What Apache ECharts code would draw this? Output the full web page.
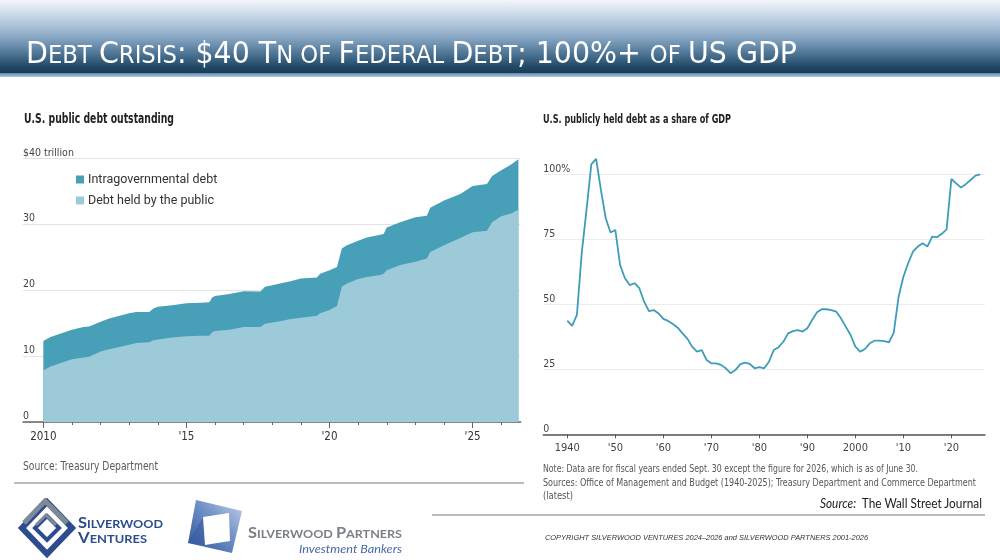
<!DOCTYPE html>
<html><head><meta charset="utf-8">
<script src="https://cdn.jsdelivr.net/npm/echarts@6/dist/echarts.min.js"></script>
<style>
html,body{margin:0;padding:0;width:1000px;height:560px;overflow:hidden;background:#fff;}
body{font-family:'Liberation Sans Narrow','DejaVu Sans Condensed','Liberation Sans',sans-serif;}
#hdr{position:absolute;left:0;top:0;width:1000px;height:73px;
 background:linear-gradient(to bottom,#f3f6fa 0%,#d3e0ec 16%,#a9c1d8 36%,#7e9fbd 55%,#4a7191 75%,#1f4864 92%,#173c57 100%);}
#hdrline{position:absolute;left:0;top:73px;width:1000px;height:4px;background:linear-gradient(#5f87ad,#b3c9de);}
#chart{position:absolute;left:0;top:0;width:1000px;height:560px;z-index:1;}
.t{position:absolute;white-space:nowrap;transform-origin:left center;z-index:2;line-height:1.2;}
#title{color:#fff;font-family:'Liberation Sans Narrow','DejaVu Sans Condensed',sans-serif;line-height:34px;}
#title .b{font-size:30px;}
#title .s{font-size:24px;}
svg{position:absolute;left:0;top:0;z-index:0;}
</style></head>
<body>
<div id="hdr"></div><div id="hdrline"></div>
<svg width="1000" height="560" viewBox="0 0 1000 560">
 <defs>
  <linearGradient id="pg" x1="0" y1="1" x2="1" y2="0">
   <stop offset="0" stop-color="#2a5398"/><stop offset="0.55" stop-color="#6f8fc6"/><stop offset="1" stop-color="#c3d1ea"/>
  </linearGradient>
 </defs>
 <line x1="14" y1="483" x2="524" y2="483" stroke="#7a7a7a" stroke-width="1"/>
 <line x1="432" y1="515" x2="985" y2="515" stroke="#7a7a7a" stroke-width="1"/>
 <!-- Silverwood Ventures mark -->
 <polygon points="47,502 72,528 47,554 22,528" fill="none" stroke="#2d4c8e" stroke-width="6"/>
 <polyline points="24,523 45,501 67,523" fill="none" stroke="#7e8a95" stroke-width="5"/>
 <polygon points="47,516 59,528 47,540 35,528" fill="none" stroke="#2d4c8e" stroke-width="4"/>
 <polyline points="36,525 46,515 56,525" fill="none" stroke="#7e8a95" stroke-width="3"/>
 <!-- Silverwood Partners mark -->
 <polygon points="196,500 242,511 232,553 188,543" fill="url(#pg)"/>
 <polygon points="188,543 203,517 205,545" fill="#3a5ea0" opacity="0.6"/>
 <polygon points="203,517 229,513 230,541 205,545" fill="#fff"/>
</svg>
<div id="chart"></div>

<div class="t" id="title" data-w="771" data-x="26" data-cy="55"><span class="b">D</span><span class="s">EBT </span><span class="b">C</span><span class="s">RISIS</span><span class="b">: $40 T</span><span class="s">N OF </span><span class="b">F</span><span class="s">EDERAL </span><span class="b">D</span><span class="s">EBT</span><span class="b">; 100%+ </span><span class="s">OF </span><span class="b">US GDP</span></div>

<div class="t" data-w="150" data-x="24" data-cy="118.5" style="font-size:14px;font-weight:bold;color:#222;">U.S. public debt outstanding</div>
<div class="t" data-w="188" data-x="543" data-cy="118.5" style="font-size:13px;font-weight:bold;color:#222;">U.S. publicly held debt as a share of GDP</div>
<div class="t" data-w="135" data-x="23" data-cy="466" style="font-size:12px;color:#5a5a5a;">Source: Treasury Department</div>
<div class="t" data-w="375" data-x="543" data-cy="468" style="font-size:11px;color:#555;">Note: Data are for fiscal years ended Sept. 30 except the figure for 2026, which is as of June 30.</div>
<div class="t" data-w="433" data-x="543" data-cy="482" style="font-size:11px;color:#555;">Sources: Office of Management and Budget (1940-2025); Treasury Department and Commerce Department</div>
<div class="t" data-w="30" data-x="543" data-cy="495" style="font-size:11px;color:#555;">(latest)</div>
<div class="t" data-w="162" data-x="820" data-cy="504" style="font-size:13px;color:#222;font-family:Lato,'Open Sans',sans-serif;"><i>Source:</i>&nbsp; The Wall Street Journal</div>
<div class="t" data-w="323" data-x="545" data-cy="538" style="font-size:8px;color:#333;font-style:italic;font-family:'Liberation Sans',Arial,sans-serif;">COPYRIGHT SILVERWOOD VENTURES 2024–2026 and SILVERWOOD PARTNERS 2001-2026</div>

<div class="t" data-w="85" data-x="78" data-cy="521" style="color:#2d4c8e;font-weight:bold;font-family:Lato,'Open Sans',sans-serif;"><span style="font-size:15px">S</span><span style="font-size:11.5px">ILVERWOOD</span></div>
<div class="t" data-w="69" data-x="78" data-cy="536" style="color:#2d4c8e;font-weight:bold;font-family:Lato,'Open Sans',sans-serif;"><span style="font-size:15px">V</span><span style="font-size:11.5px">ENTURES</span></div>
<div class="t" data-w="154" data-x="248" data-cy="531" style="color:#7b8087;font-weight:bold;font-family:Lato,'Open Sans',sans-serif;"><span style="font-size:15px">S</span><span style="font-size:11.5px">ILVERWOOD </span><span style="font-size:15px">P</span><span style="font-size:11.5px">ARTNERS</span></div>
<div class="t" data-w="103" data-x="299" data-cy="548" style="color:#4569a8;font-style:italic;font-size:11px;font-family:Lato,'Open Sans',sans-serif;">Investment Bankers</div>

<script>
// ---- Left chart: U.S. public debt outstanding ($ trillion) ----
const debtDates = [2010.0, 2010.25, 2011.0, 2011.4, 2011.6, 2012.0, 2012.3, 2013.0, 2013.25, 2013.7, 2013.85, 2014.0, 2014.5, 2015.0, 2015.5, 2015.8, 2015.9, 2016.0, 2016.5, 2017.0, 2017.58, 2017.75, 2018.0, 2018.27, 2018.6, 2019.0, 2019.56, 2019.67, 2020.0, 2020.26, 2020.43, 2020.61, 2021.0, 2021.3, 2021.77, 2021.89, 2022.0, 2022.47, 2023.0, 2023.4, 2023.52, 2024.0, 2024.57, 2025.0, 2025.5, 2025.68, 2026.0, 2026.32, 2026.6];
const totalDebt = [12.3, 12.9, 14.0, 14.4, 14.5, 15.2, 15.7, 16.5, 16.7, 16.7, 17.2, 17.5, 17.7, 18.0, 18.1, 18.15, 18.9, 19.1, 19.4, 19.85, 19.8, 20.5, 20.75, 21.0, 21.3, 21.75, 21.9, 22.5, 23.0, 23.5, 26.3, 26.8, 27.5, 28.0, 28.4, 28.5, 29.5, 30.3, 31.05, 31.3, 32.5, 33.6, 34.6, 35.8, 36.1, 37.3, 38.2, 39.0, 39.85];
const publicDebt = [7.8, 8.4, 9.5, 9.8, 9.9, 10.7, 11.05, 11.7, 12.0, 12.1, 12.4, 12.5, 12.8, 13.0, 13.1, 13.1, 13.6, 13.8, 14.0, 14.4, 14.4, 14.9, 15.1, 15.3, 15.6, 15.8, 16.1, 16.5, 17.0, 17.6, 20.5, 21.0, 21.7, 22.0, 22.3, 22.5, 23.0, 23.8, 24.3, 24.8, 25.8, 26.8, 27.9, 28.8, 29.0, 30.3, 31.2, 31.6, 32.2];
const debtTickYears = [2010, 2011, 2012, 2013, 2014, 2015, 2016, 2017, 2018, 2019, 2020, 2021, 2022, 2023, 2024, 2025, 2026];
const debtLabelYears = [2010, 2015, 2020, 2025];

// ---- Right chart: publicly held debt as a share of GDP (%) ----
const gdpYears = [1940,1941,1942,1943,1944,1945,1946,1947,1948,1949,1950,1951,1952,1953,1954,1955,1956,1957,1958,1959,1960,1961,1962,1963,1964,1965,1966,1967,1968,1969,1970,1971,1972,1973,1974,1975,1976,1977,1978,1979,1980,1981,1982,1983,1984,1985,1986,1987,1988,1989,1990,1991,1992,1993,1994,1995,1996,1997,1998,1999,2000,2001,2002,2003,2004,2005,2006,2007,2008,2009,2010,2011,2012,2013,2014,2015,2016,2017,2018,2019,2020,2021,2022,2023,2024,2025,2026];
const debtShareGDP = [43.7,41.7,45.9,69.6,86.3,103.8,105.9,94.0,83.1,77.6,78.6,65.1,60.0,57.4,58.1,56.2,51.0,47.4,47.8,46.5,44.4,43.6,42.4,41.0,38.8,36.8,33.7,31.8,32.4,28.6,27.3,27.3,26.7,25.4,23.5,24.7,26.9,27.6,27.1,25.4,25.8,25.4,27.9,32.4,33.5,35.6,38.8,39.7,40.1,39.5,40.8,44.0,46.9,48.1,48.1,47.8,47.2,44.6,41.4,38.2,33.7,31.8,32.8,35.0,36.0,36.0,35.8,35.4,39.1,52.9,60.6,65.8,70.3,72.2,73.5,72.2,76.0,75.8,77.1,78.8,98.2,96.5,94.9,96.2,97.8,99.5,100.0];
const gdpLabelYears = [1940, 1950, 1960, 1970, 1980, 1990, 2000, 2010, 2020];

const F = "'Liberation Sans Narrow','DejaVu Sans Condensed',sans-serif";
const fmtDebtYear = v => v === 2010 ? '2010' : "'" + String(v).slice(2);
const fmtGdpYear = v => (v === 1940 || v === 2000) ? String(v) : "'" + String(v).slice(2);

const chart = echarts.init(document.getElementById('chart'), null, {renderer: 'canvas'});
chart.setOption({
  animation: false,
  backgroundColor: 'transparent',
  legend: {
    data: ['Intragovernmental debt', 'Debt held by the public'],
    orient: 'vertical', left: 76, top: 173, padding: 0, itemWidth: 8, itemHeight: 8, itemGap: 8,
    icon: 'rect', selectedMode: false,
    textStyle: {fontSize: 12.5, color: '#333', fontFamily: 'Roboto, sans-serif', padding: [0, 0, 0, -1]}
  },
  grid: [
    {left: 23, right: 479.3, top: 158.3, bottom: 138, containLabel: false},
    {left: 543.3, right: 15, top: 109.3, bottom: 125.7, containLabel: false}
  ],
  xAxis: [
    {gridIndex: 0, type: 'value', position: 'bottom', min: 2009.29, max: 2026.68,
     axisLine: {show: true, lineStyle: {color: '#666', width: 1.5}},
     axisTick: {show: true, customValues: debtTickYears, length: 3, lineStyle: {color: '#666'}},
     axisLabel: {show: true, customValues: debtLabelYears, formatter: fmtDebtYear, margin: 9, color: '#333', fontSize: 11.5, fontFamily: F},
     splitLine: {show: false}},
    {gridIndex: 0, type: 'value', position: 'bottom', min: 2009.29, max: 2026.68,
     axisLine: {show: false},
     axisTick: {show: true, customValues: debtLabelYears, length: 6, lineStyle: {color: '#666'}},
     axisLabel: {show: false}, splitLine: {show: false}},
    {gridIndex: 1, type: 'value', position: 'bottom', min: 1935, max: 2027,
     axisLine: {show: true, lineStyle: {color: '#555', width: 1.5}},
     axisTick: {show: true, customValues: gdpLabelYears, length: 4, lineStyle: {color: '#555'}},
     axisLabel: {show: true, customValues: gdpLabelYears, formatter: fmtGdpYear, margin: 8, color: '#444', fontSize: 11, fontFamily: F},
     splitLine: {show: false}}
  ],
  yAxis: [
    {gridIndex: 0, type: 'value', min: 0, max: 40, interval: 10,
     axisLine: {show: false}, axisTick: {show: false},
     axisLabel: {inside: true, margin: 0, align: 'left', verticalAlign: 'bottom', padding: [0, 0, 0, 0], color: '#444', fontSize: 10.5, fontFamily: F,
       formatter: v => v === 40 ? '$40 trillion' : String(v)},
     splitLine: {show: true, lineStyle: {color: '#e3e3e3', width: 1}}},
    {gridIndex: 1, type: 'value', min: 0, max: 125, interval: 25,
     axisLine: {show: false}, axisTick: {show: false},
     axisLabel: {inside: true, margin: 0, align: 'left', verticalAlign: 'bottom', padding: [0, 0, 0, 0], color: '#444', fontSize: 10.5, fontFamily: F, showMaxLabel: false,
       formatter: v => v === 100 ? '100%' : String(v)},
     splitLine: {show: true, showMaxLine: false, lineStyle: {color: '#ececec', width: 1}}}
  ],
  series: [
    {name: 'Intragovernmental debt', type: 'line', xAxisIndex: 0, yAxisIndex: 0, z: 2,
     data: debtDates.map((d, i) => [d, totalDebt[i]]), showSymbol: false, symbol: 'none',
     lineStyle: {width: 0}, itemStyle: {color: '#47a0b8'}, areaStyle: {color: '#47a0b8', opacity: 1}},
    {name: 'Debt held by the public', type: 'line', xAxisIndex: 0, yAxisIndex: 0, z: 3,
     data: debtDates.map((d, i) => [d, publicDebt[i]]), showSymbol: false, symbol: 'none',
     lineStyle: {width: 0}, itemStyle: {color: '#9ccad9'}, areaStyle: {color: '#9ccad9', opacity: 1}},
    {name: 'Publicly held debt / GDP', type: 'line', xAxisIndex: 2, yAxisIndex: 1, z: 3,
     data: gdpYears.map((y, i) => [y, debtShareGDP[i]]), showSymbol: false, symbol: 'none',
     lineStyle: {color: '#3f9cb9', width: 1.8}}
  ]
});

// position and fit the HTML texts
document.querySelectorAll('.t').forEach(el => {
  const w = parseFloat(el.dataset.w);
  const nat = el.getBoundingClientRect().width;
  el.style.left = el.dataset.x + 'px';
  el.style.top = (parseFloat(el.dataset.cy) - el.offsetHeight / 2) + 'px';
  if (nat > 0) el.style.transform = 'scaleX(' + (w / nat).toFixed(4) + ')';
});
</script>
</body></html>
